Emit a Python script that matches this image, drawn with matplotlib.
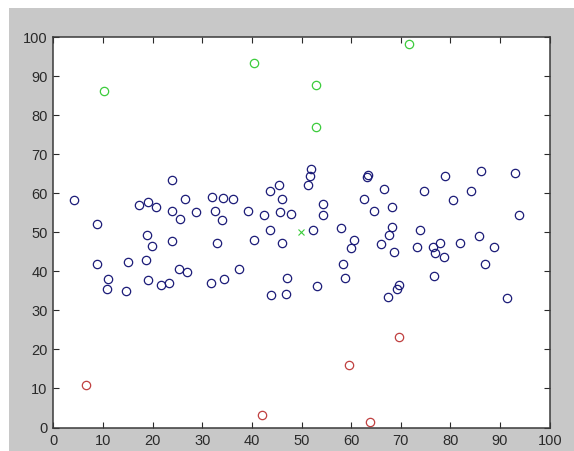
"""
Scatter of clustered points (MATLAB-style figure)
"""

import numpy as np
import matplotlib

matplotlib.use("Agg")
import matplotlib.pyplot as plt
from matplotlib.patches import Rectangle

plt.rcParams["font.family"] = ["Liberation Sans", "DejaVu Sans"]

# main cluster (blue circles)
blue_x = [4.2, 24.0, 17.3, 19.0, 20.6, 23.9, 25.5, 8.9, 18.8, 19.8, 24.0, 8.9,
          15.1, 18.6, 25.4, 11.0, 10.9, 14.6, 19.0, 21.6, 23.4,
          26.6, 31.9, 34.2, 36.3, 28.7, 32.6, 34.0, 39.2, 42.4, 43.6, 45.5,
          46.0, 45.7, 47.8, 43.6, 32.9, 40.4, 46.1, 26.9, 37.5, 31.7, 34.4,
          47.1, 43.9, 46.9,
          52.0, 51.7, 51.4, 63.4, 63.2, 66.6, 62.6, 64.7, 68.2, 54.3, 54.3,
          52.4, 57.9, 60.5, 60.0, 68.3, 67.7, 66.1, 68.6, 58.4, 58.8, 53.2,
          69.6, 69.3, 67.4,
          79.0, 86.1, 93.1, 74.6, 84.1, 80.6, 93.8, 73.9, 73.3, 77.9, 76.5,
          76.9, 78.8, 82.0, 85.8, 88.8, 86.9, 76.6, 91.4]
blue_y = [58.2, 63.4, 57.0, 57.7, 56.5, 55.6, 53.5, 52.1, 49.4, 46.5, 47.8, 41.9,
          42.5, 42.9, 40.7, 38.0, 35.6, 35.1, 37.8, 36.6, 37.1,
          58.6, 59.2, 58.8, 58.6, 55.3, 55.4, 53.3, 55.4, 54.5, 60.6, 62.2,
          58.5, 55.2, 54.6, 50.6, 47.2, 48.1, 47.2, 39.8, 40.6, 37.1, 38.1,
          38.4, 34.0, 34.3,
          66.3, 64.5, 62.2, 64.7, 64.3, 61.1, 58.6, 55.6, 56.5, 57.2, 54.5,
          50.7, 51.0, 48.1, 46.0, 51.3, 49.3, 46.9, 45.1, 41.9, 38.4, 36.3,
          36.5, 35.5, 33.5,
          64.5, 65.8, 65.2, 60.6, 60.6, 58.2, 54.5, 50.5, 46.2, 47.2, 46.2,
          44.8, 43.6, 47.4, 49.2, 46.2, 41.9, 38.7, 33.1]

# outliers above (green) and below (red)
green_x = [10.3, 40.4, 53.0, 53.0, 71.6]
green_y = [86.3, 93.3, 87.8, 77.1, 98.4]
red_x = [6.6, 42.1, 59.6, 63.8, 69.6]
red_y = [10.9, 3.2, 15.9, 1.3, 23.2]

# centre marker
center_x = [49.9]
center_y = [50.0]

fig = plt.figure(figsize=(5.74, 4.51), dpi=100, facecolor="#c8c8c8")
# white screenshot border on top and left
fig.patches.append(Rectangle((0, 1 - 8 / 451), 1, 8 / 451, transform=fig.transFigure,
                             facecolor="white", edgecolor="none", zorder=-1))
fig.patches.append(Rectangle((0, 0), 9 / 574, 1, transform=fig.transFigure,
                             facecolor="white", edgecolor="none", zorder=-1))

ax = fig.add_axes([53.3 / 574, (451 - 427.5) / 451, 496.4 / 574, 390.2 / 451])

ax.plot(blue_x, blue_y, "o", ms=6, mfc="none", mec="#1c1c78", mew=0.9)
ax.plot(green_x, green_y, "o", ms=6, mfc="none", mec="#3ccc3c", mew=0.9)
ax.plot(red_x, red_y, "o", ms=6, mfc="none", mec="#c04040", mew=0.9)
ax.plot(center_x, center_y, "x", ms=4, mec="#3ccc3c", mew=0.8)

ax.set_xlim(0, 100)
ax.set_ylim(0, 100)
ax.set_xticks(np.arange(0, 101, 10))
ax.set_yticks(np.arange(0, 101, 10))
ax.tick_params(direction="in", length=4, width=0.8, top=True, right=True,
               labelsize=10.5, colors="#2a2a2a")
ax.tick_params(axis="x", pad=5)
ax.tick_params(axis="y", pad=4)
for s in ax.spines.values():
    s.set_color("#3a3a3a")
    s.set_linewidth(1.1)

plt.savefig("out.png", dpi=100, facecolor=fig.get_facecolor())
plt.close()
